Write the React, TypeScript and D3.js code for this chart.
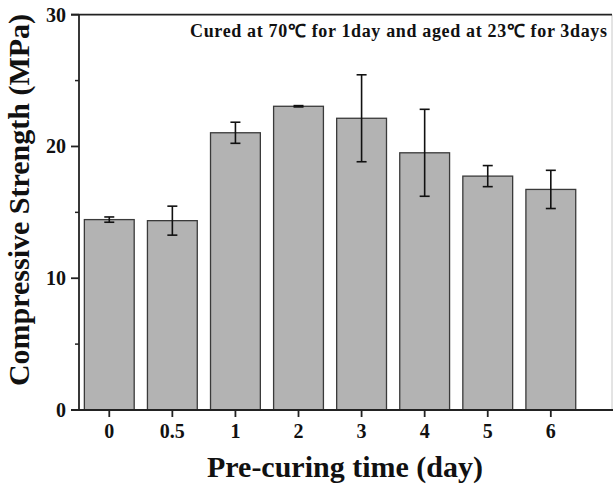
import React from "react";
import * as d3 from "d3";

const categories = ["0", "0.5", "1", "2", "3", "4", "5", "6"];
const strength = [14.45, 14.37, 21.04, 23.05, 22.14, 19.52, 17.75, 16.74];
const errors = [0.2, 1.1, 0.8, 0.05, 3.3, 3.3, 0.8, 1.45];
const yTicks = [0, 10, 20, 30];
const yMinorTicks = [5, 15, 25];

const W = 613;
const H = 489;
const left = 79;
const right = 612;
const top = 14.7;
const bottom = 410;
const font = "'Liberation Serif', 'Times New Roman', serif";

export default function App() {
  const x = d3.scaleLinear().domain([-0.48, 7.97]).range([left, right]);
  const y = d3.scaleLinear().domain([0, 30]).range([bottom, top]);
  const step = x(1) - x(0);
  const bw = step * 0.79;
  const capW = 10;

  return (
    <svg
      width={W}
      height={H}
      style={{ position: "fixed", top: 0, left: 0, background: "#fff" }}
      fontFamily={font}
    >
      {/* right border */}
      <line x1={right} x2={right} y1={top} y2={bottom} stroke="#c8c8c8" strokeWidth={1} />
      {/* bars */}
      {strength.map((v, i) => (
        <rect
          key={"b" + i}
          x={x(i) - bw / 2}
          y={y(v)}
          width={bw}
          height={y(0) - y(v)}
          fill="#b3b3b3"
          stroke="#3a3a3a"
          strokeWidth={1.3}
        />
      ))}
      {/* error bars */}
      {strength.map((v, i) => {
        const e = errors[i];
        const cx = x(i);
        return (
          <g key={"e" + i} stroke="#111" strokeWidth={1.6}>
            <line x1={cx} x2={cx} y1={y(v + e)} y2={y(v - e)} />
            <line x1={cx - capW / 2} x2={cx + capW / 2} y1={y(v + e)} y2={y(v + e)} />
            <line x1={cx - capW / 2} x2={cx + capW / 2} y1={y(v - e)} y2={y(v - e)} />
          </g>
        );
      })}
      {/* axes */}
      <line x1={left - 8} x2={right} y1={top} y2={top} stroke="#222" strokeWidth={1.8} />
      <line x1={left - 8} x2={W} y1={bottom} y2={bottom} stroke="#222" strokeWidth={1.8} />
      <line x1={left} x2={left} y1={top} y2={bottom} stroke="#222" strokeWidth={1.8} />
      {yTicks.map((t) => (
        <g key={"yt" + t}>
          <line x1={left - 8} x2={left} y1={y(t)} y2={y(t)} stroke="#222" strokeWidth={1.8} />
          <text
            x={66}
            y={y(t) + 7}
            textAnchor="end"
            fontSize={20}
            fontWeight="bold"
            fill="#111"
          >
            {t}
          </text>
        </g>
      ))}
      {yMinorTicks.map((t) => (
        <line key={"ym" + t} x1={left - 4} x2={left} y1={y(t)} y2={y(t)} stroke="#222" strokeWidth={1.5} />
      ))}
      {categories.map((c, i) => (
        <g key={"xt" + i}>
          <line x1={x(i)} x2={x(i)} y1={bottom} y2={bottom + 7} stroke="#222" strokeWidth={1.8} />
          <text
            x={x(i)}
            y={438}
            textAnchor="middle"
            fontSize={20}
            fontWeight="bold"
            fill="#111"
          >
            {c}
          </text>
        </g>
      ))}
      {/* titles */}
      <text
        x={345}
        y={477}
        textAnchor="middle"
        fontSize={30}
        fontWeight="bold"
        fill="#111"
      >
        Pre-curing time (day)
      </text>
      <text
        transform={`translate(29,200) rotate(-90)`}
        textAnchor="middle"
        fontSize={30}
        fontWeight="bold"
        fill="#111"
      >
        Compressive Strength (MPa)
      </text>
      <text
        x={190}
        y={37}
        fontSize={18}
        fontWeight="bold"
        fill="#111"
        textLength={417}
        lengthAdjust="spacing"
      >
        Cured at 70℃ for 1day and aged at 23℃ for 3days
      </text>
    </svg>
  );
}
